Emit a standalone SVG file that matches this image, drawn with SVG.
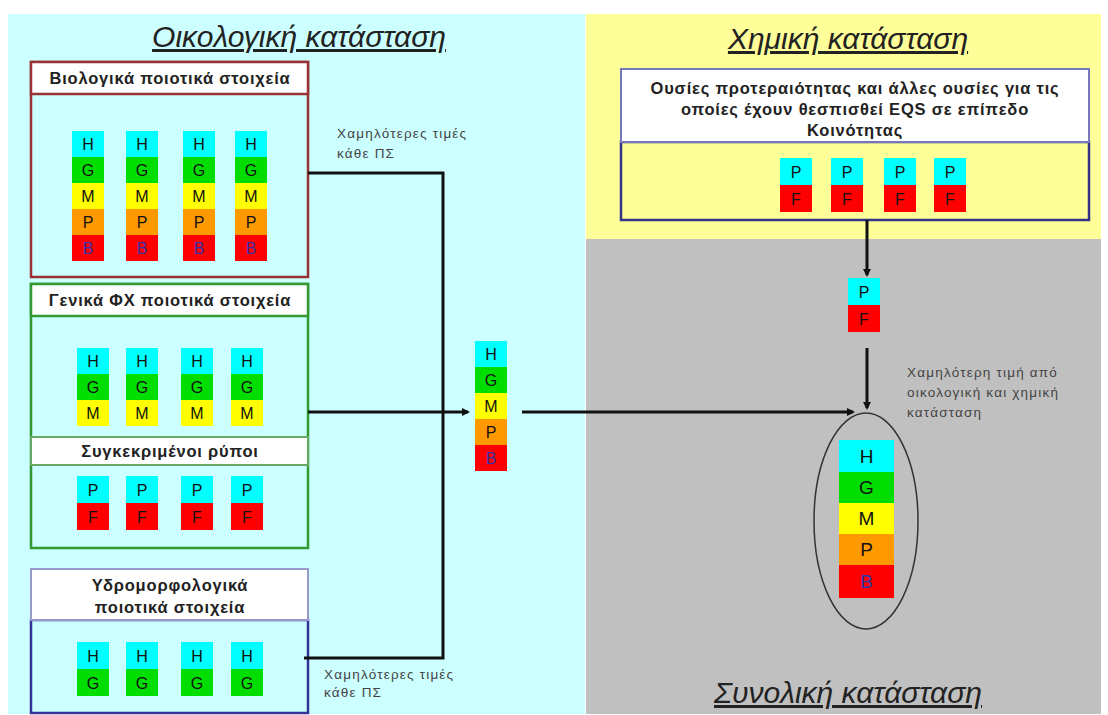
<svg xmlns="http://www.w3.org/2000/svg" width="1108" height="715" viewBox="0 0 1108 715">
<style>
.title{font-family:"Liberation Sans",Arial,sans-serif;font-size:30px;font-style:italic;text-decoration:underline;fill:#222;text-anchor:middle}
.hdr{font-family:"Liberation Sans",Arial,sans-serif;font-size:16.5px;font-weight:bold;fill:#222;text-anchor:middle;letter-spacing:0.8px}
.note{font-family:"Liberation Sans",Arial,sans-serif;font-size:13.5px;fill:#444;letter-spacing:1.2px}
.l{font-family:"Liberation Sans",Arial,sans-serif;font-size:16px;fill:#111;text-anchor:middle}
.lb{font-family:"Liberation Sans",Arial,sans-serif;font-size:19px;fill:#111;text-anchor:middle}
.bl{fill:#3333aa}
.c{fill:#00ffff}.g{fill:#00dd00}.y{fill:#ffff00}.o{fill:#ff9900}.r{fill:#ff0000}
.hw{fill:#ffffff}
.wire{fill:none;stroke:#111;stroke-width:3}
</style>
<defs>
<marker id="ah" markerWidth="8" markerHeight="8" refX="6" refY="4" orient="auto" markerUnits="userSpaceOnUse" viewBox="0 0 8 8">
<path d="M0,0 L8,4 L0,8 z" fill="#111"/>
</marker>
<g id="s5">
<rect class="c" x="0" y="0" width="32" height="26"/><text class="l" x="16" y="19">H</text>
<rect class="g" x="0" y="26" width="32" height="26"/><text class="l" x="16" y="45">G</text>
<rect class="y" x="0" y="52" width="32" height="26"/><text class="l" x="16" y="71">M</text>
<rect class="o" x="0" y="78" width="32" height="26"/><text class="l" x="16" y="97">P</text>
<rect class="r" x="0" y="104" width="32" height="26"/><text class="l bl" x="16" y="123">B</text>
</g>
<g id="s3">
<rect class="c" x="0" y="0" width="32" height="26"/><text class="l" x="16" y="19">H</text>
<rect class="g" x="0" y="26" width="32" height="26"/><text class="l" x="16" y="45">G</text>
<rect class="y" x="0" y="52" width="32" height="26"/><text class="l" x="16" y="71">M</text>
</g>
<g id="pf">
<rect class="c" x="0" y="0" width="32" height="27"/><text class="l" x="16" y="20">P</text>
<rect class="r" x="0" y="27" width="32" height="27"/><text class="l" x="16" y="47">F</text>
</g>
<g id="hg">
<rect class="c" x="0" y="0" width="32" height="27"/><text class="l" x="16" y="20">H</text>
<rect class="g" x="0" y="27" width="32" height="27"/><text class="l" x="16" y="47">G</text>
</g>
</defs>
<rect width="1108" height="715" fill="#ffffff"/>
<!-- panels -->
<rect x="8" y="14" width="577" height="700" fill="#ccffff"/>
<rect x="586" y="14" width="515" height="225" fill="#ffff99"/>
<rect x="586" y="239" width="515" height="475" fill="#c0c0c0"/>
<text class="title" x="299" y="47">Οικολογική κατάσταση</text>
<text class="title" x="848" y="49">Χημική κατάσταση</text>
<text class="title" x="848" y="703">Συνολική κατάσταση</text>

<g id="bio">
<rect x="31" y="62" width="277" height="215" fill="none" stroke="#993333" stroke-width="2.5"/>
<rect x="31" y="62" width="277" height="32" class="hw" stroke="#993333" stroke-width="2.5"/>
<text class="hdr" x="170" y="84">Βιολογικά ποιοτικά στοιχεία</text>
<use href="#s5" x="72" y="131"/>
<use href="#s5" x="126" y="131"/>
<use href="#s5" x="183" y="131"/>
<use href="#s5" x="235" y="131"/>
</g>

<g id="fx">
<rect x="31" y="284" width="277" height="264" fill="none" stroke="#339933" stroke-width="2.5"/>
<rect x="31" y="284" width="277" height="32" class="hw" stroke="#339933" stroke-width="2.5"/>
<text class="hdr" x="170" y="306">Γενικά ΦΧ ποιοτικά στοιχεία</text>
<use href="#s3" x="77" y="348"/>
<use href="#s3" x="126" y="348"/>
<use href="#s3" x="181" y="348"/>
<use href="#s3" x="231" y="348"/>
</g>

<g id="pollutants">
<rect x="31" y="437" width="277" height="28" class="hw" stroke="#66aa66" stroke-width="2"/>
<text class="hdr" x="170" y="457">Συγκεκριμένοι ρύποι</text>
<use href="#pf" x="77" y="476"/>
<use href="#pf" x="126" y="476"/>
<use href="#pf" x="181" y="476"/>
<use href="#pf" x="231" y="476"/>
</g>

<g id="hydro">
<rect x="31" y="620" width="277" height="93" fill="none" stroke="#333399" stroke-width="2.5"/>
<rect x="31" y="569" width="277" height="51" class="hw" stroke="#9999cc" stroke-width="2"/>
<text class="hdr" x="170" y="591">Υδρομορφολογικά</text>
<text class="hdr" x="170" y="613">ποιοτικά στοιχεία</text>
<use href="#hg" x="77" y="642"/>
<use href="#hg" x="126" y="642"/>
<use href="#hg" x="181" y="642"/>
<use href="#hg" x="231" y="642"/>
</g>

<g id="ecoresult">
<use href="#s5" x="475" y="341"/>
</g>

<g id="chem">
<rect x="621" y="142" width="468" height="78" fill="none" stroke="#333388" stroke-width="2.5"/>
<rect x="621" y="69" width="468" height="73" class="hw" stroke="#7777bb" stroke-width="2"/>
<text class="hdr" x="855" y="94">Ουσίες προτεραιότητας και άλλες ουσίες για τις</text>
<text class="hdr" x="855" y="115">οποίες έχουν θεσπισθεί EQS σε επίπεδο</text>
<text class="hdr" x="855" y="136">Κοινότητας</text>
<g transform="translate(0,1)">
<use href="#pf" x="780" y="157"/>
<use href="#pf" x="831" y="157"/>
<use href="#pf" x="884" y="157"/>
<use href="#pf" x="934" y="157"/>
</g>
</g>

<g id="chemresult">
<use href="#pf" x="848" y="278"/>
</g>

<g id="overall">
<ellipse cx="866" cy="521" rx="52" ry="108" fill="none" stroke="#333" stroke-width="1.5"/>
<rect class="c" x="839" y="440" width="55" height="32"/><text class="lb" x="866.5" y="463">H</text>
<rect class="g" x="839" y="472" width="55" height="31"/><text class="lb" x="866.5" y="494">G</text>
<rect class="y" x="839" y="503" width="55" height="31"/><text class="lb" x="866.5" y="525">M</text>
<rect class="o" x="839" y="534" width="55" height="31"/><text class="lb" x="866.5" y="556">P</text>
<rect class="r" x="839" y="565" width="55" height="33"/><text class="lb bl" x="866.5" y="588">B</text>
</g>

<g id="connectors">
<polyline class="wire" points="308,173 443,173 443,658 304,658"/>
<line class="wire" x1="308" y1="412" x2="468" y2="412" marker-end="url(#ah)"/>
<line class="wire" x1="522" y1="412" x2="853" y2="412" marker-end="url(#ah)"/>
<line class="wire" x1="867" y1="220" x2="867" y2="275" marker-end="url(#ah)"/>
<line class="wire" x1="867" y1="348" x2="867" y2="408" marker-end="url(#ah)"/>
</g>

<g id="labels">
<text class="note" x="337" y="138">Χαμηλότερες τιμές</text>
<text class="note" x="337" y="158">κάθε ΠΣ</text>
<text class="note" x="324" y="679">Χαμηλότερες τιμές</text>
<text class="note" x="324" y="697">κάθε ΠΣ</text>
<text class="note" x="907" y="377">Χαμηλότερη τιμή από</text>
<text class="note" x="907" y="397">οικολογική και χημική</text>
<text class="note" x="907" y="417">κατάσταση</text>
</g>
</svg>
